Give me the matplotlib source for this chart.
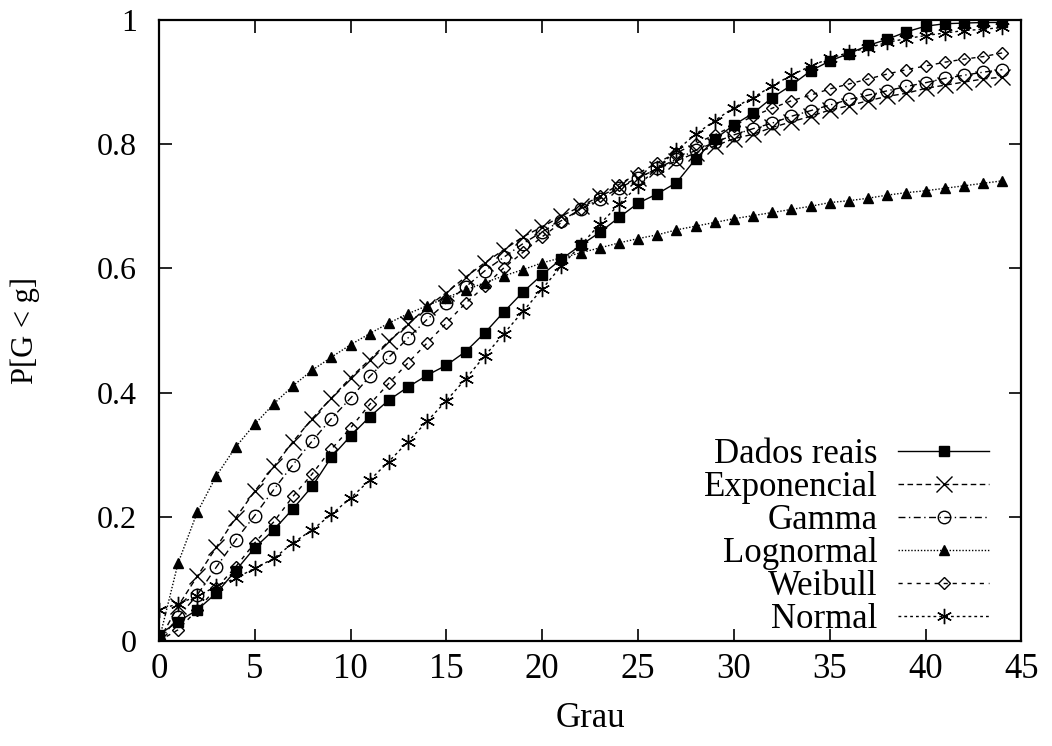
import matplotlib
matplotlib.use("Agg")
import matplotlib.pyplot as plt
import numpy as np

grau = list(range(45))
dados_reais = [0.010, 0.031, 0.050, 0.077, 0.113, 0.150, 0.179, 0.213, 0.249, 0.296, 0.330,
               0.361, 0.388, 0.409, 0.428, 0.444, 0.466, 0.496, 0.530, 0.562, 0.590,
               0.615, 0.637, 0.658, 0.682, 0.705, 0.720, 0.738, 0.776, 0.808, 0.831,
               0.850, 0.875, 0.895, 0.918, 0.934, 0.946, 0.959, 0.969, 0.981, 0.990, 0.994, 0.995, 0.996, 0.996]
exponencial = [0.0, 0.056, 0.104, 0.151, 0.198, 0.241, 0.281, 0.321, 0.358, 0.391, 0.424,
               0.453, 0.483, 0.510, 0.538, 0.561, 0.586, 0.609, 0.630, 0.651, 0.667,
               0.684, 0.700, 0.716, 0.731, 0.746, 0.760, 0.773, 0.786, 0.797, 0.809,
               0.816, 0.827, 0.836, 0.845, 0.855, 0.862, 0.870, 0.877, 0.882, 0.890, 0.895, 0.900, 0.905, 0.908]
gamma = [0.0, 0.038, 0.074, 0.119, 0.162, 0.202, 0.244, 0.284, 0.322, 0.358, 0.391,
         0.426, 0.457, 0.488, 0.518, 0.545, 0.570, 0.596, 0.618, 0.640, 0.659,
         0.677, 0.695, 0.712, 0.729, 0.745, 0.761, 0.776, 0.790, 0.803, 0.815,
         0.825, 0.834, 0.845, 0.854, 0.863, 0.872, 0.879, 0.886, 0.893, 0.899, 0.906, 0.911, 0.916, 0.920]
lognormal = [0.0, 0.125, 0.207, 0.266, 0.312, 0.349, 0.382, 0.411, 0.436, 0.457, 0.477,
             0.495, 0.512, 0.527, 0.540, 0.553, 0.565, 0.577, 0.588, 0.598, 0.609,
             0.617, 0.625, 0.633, 0.641, 0.648, 0.654, 0.662, 0.668, 0.674, 0.680,
             0.685, 0.690, 0.695, 0.700, 0.706, 0.709, 0.713, 0.718, 0.722, 0.725, 0.729, 0.733, 0.737, 0.741]
weibull = [0.0, 0.018, 0.050, 0.085, 0.119, 0.158, 0.192, 0.233, 0.269, 0.309, 0.343,
           0.381, 0.415, 0.448, 0.480, 0.512, 0.544, 0.571, 0.601, 0.626, 0.651,
           0.674, 0.696, 0.716, 0.735, 0.753, 0.770, 0.786, 0.801, 0.815, 0.830,
           0.845, 0.858, 0.870, 0.879, 0.889, 0.897, 0.905, 0.913, 0.920, 0.926, 0.932, 0.937, 0.941, 0.947]
normal = [0.050, 0.060, 0.072, 0.088, 0.101, 0.117, 0.133, 0.158, 0.179, 0.204, 0.230,
          0.259, 0.289, 0.321, 0.354, 0.387, 0.422, 0.459, 0.495, 0.531, 0.567,
          0.604, 0.637, 0.671, 0.703, 0.733, 0.762, 0.790, 0.816, 0.838, 0.859,
          0.875, 0.894, 0.911, 0.926, 0.938, 0.948, 0.955, 0.964, 0.970, 0.975, 0.979, 0.983, 0.985, 0.988]

x_ticks = [0, 5, 10, 15, 20, 25, 30, 35, 40, 45]
y_ticks = [0, 0.2, 0.4, 0.6, 0.8, 1]
y_tick_labels = ["0", "0.2", "0.4", "0.6", "0.8", "1"]

plt.rcParams['font.family'] = ['Liberation Serif', 'DejaVu Serif']
plt.rcParams['font.size'] = 25

fig = plt.figure(figsize=(10.52, 7.46), dpi=100)
ax = fig.add_axes([0.151, 0.1408, 0.820, 0.8324])

series = [
    ("Dados reais", dados_reais, dict(marker='s', ms=7, mfc='black', ls='-')),
    ("Exponencial", exponencial, dict(marker='x', ms=11, mew=1.0, ls=(0, (4, 2.5)))),
    ("Gamma", gamma, dict(marker='o', ms=9, mfc='none', mew=1.0, ls=(0, (5, 2.5, 1, 2.5)))),
    ("Lognormal", lognormal, dict(marker='^', ms=7, mfc='black', ls=(0, (1, 1.3)))),
    ("Weibull", weibull, dict(marker='D', ms=6, mfc='none', mew=1.0, ls=(0, (3, 3.5)))),
    ("Normal", normal, dict(marker=(6, 2, 0), ms=11, mew=1.0, ls=(0, (2, 2.2)))),
]
for name, vals, st in series:
    ax.plot(grau, vals, color='black', lw=1.0, label=name, **st)

ax.set_xlim(0, 45)
ax.set_ylim(0, 1)
ax.set_xticks(x_ticks)
ax.set_xticklabels([str(t) for t in x_ticks])
ax.set_yticks(y_ticks)
ax.set_yticklabels(y_tick_labels)
ax.tick_params(direction='in', length=9, width=1.2, top=True, right=True)
ax.tick_params(axis='x', pad=9, labelsize=25)
ax.tick_params(axis='y', pad=16, labelsize=23)
for sp in ax.spines.values():
    sp.set_linewidth(1.6)

ax.set_xlabel("Grau", labelpad=11)
ax.set_ylabel("P[G < g]", labelpad=41, fontsize=22)

leg = ax.legend(loc='lower right', bbox_to_anchor=(0.962, 0.008), frameon=False,
                markerfirst=False, handlelength=2.6, handletextpad=0.6,
                labelspacing=0.0, borderpad=0.0, borderaxespad=0.0, numpoints=1)

fig.savefig("out.png", dpi=100)
